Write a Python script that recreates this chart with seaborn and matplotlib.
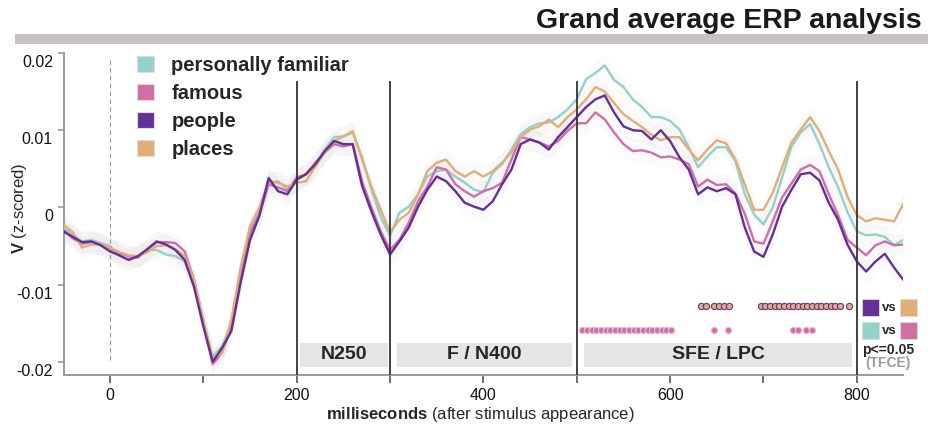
import numpy as np
import pandas as pd
import matplotlib
matplotlib.use("Agg")
import matplotlib.pyplot as plt
import seaborn as sns
from matplotlib.patches import Rectangle, Patch
from matplotlib.transforms import ScaledTranslation

# ---------------- data ----------------
ms = [-50, -40, -30, -20, -10, 0, 10, 20, 30, 40, 50, 60, 70, 80, 90, 100,
      110, 120, 130, 140, 150, 160, 170, 180, 190, 200, 210, 220, 230, 240,
      250, 260, 270, 280, 290, 300, 310, 320, 330, 340, 350, 360, 370, 380,
      390, 400, 410, 420, 430, 440, 450, 460, 470, 480, 490, 500, 510, 520,
      530, 540, 550, 560, 570, 580, 590, 600, 610, 620, 630, 640, 650, 660,
      670, 680, 690, 700, 710, 720, 730, 740, 750, 760, 770, 780, 790, 800,
      810, 820, 830, 840, 850]

people = [-0.0031, -0.0038, -0.0045, -0.0044, -0.0049, -0.0057, -0.0062, -0.0068,
          -0.0063, -0.0054, -0.0044, -0.0048, -0.0055, -0.0068, -0.0103, -0.0154,
          -0.0200, -0.0182, -0.0160, -0.0097, -0.0042, -0.0011, 0.0038, 0.0021,
          0.0017, 0.0036, 0.0043, 0.0056, 0.0073, 0.0086, 0.0082, 0.0082,
          0.0028, -0.0005, -0.0035, -0.0061, -0.0044, -0.0026, 0.0001, 0.0023,
          0.0040, 0.0034, 0.0021, 0.0006, 0.0001, -0.0003, 0.0008, 0.0030,
          0.0049, 0.0082, 0.0088, 0.0084, 0.0075, 0.0091, 0.0104, 0.0117,
          0.0130, 0.0140, 0.0145, 0.0123, 0.0105, 0.0100, 0.0099, 0.0088,
          0.0100, 0.0086, 0.0065, 0.0049, 0.0017, 0.0026, 0.0021, 0.0025,
          0.0017, -0.0026, -0.0057, -0.0064, -0.0035, 0.0001, 0.0023, 0.0043,
          0.0045, 0.0035, 0.0006, -0.0016, -0.0048, -0.0070, -0.0083, -0.0070,
          -0.0060, -0.0078, -0.0094]

places = [-0.0022, -0.0032, -0.0052, -0.0048, -0.0048, -0.0052, -0.0058, -0.0062,
          -0.0063, -0.0058, -0.0050, -0.0049, -0.0054, -0.0063, -0.0094, -0.0146,
          -0.0195, -0.0189, -0.0145, -0.0077, -0.0024, 0.0000, 0.0034, 0.0032,
          0.0027, 0.0032, 0.0034, 0.0053, 0.0071, 0.0086, 0.0092, 0.0099,
          0.0062, 0.0027, -0.0003, -0.0032, -0.0016, -0.0007, 0.0017, 0.0047,
          0.0058, 0.0062, 0.0047, 0.0040, 0.0047, 0.0040, 0.0047, 0.0058,
          0.0071, 0.0091, 0.0101, 0.0105, 0.0114, 0.0104, 0.0117, 0.0127,
          0.0140, 0.0156, 0.0150, 0.0135, 0.0121, 0.0112, 0.0104, 0.0094,
          0.0087, 0.0091, 0.0091, 0.0075, 0.0061, 0.0075, 0.0087, 0.0083,
          0.0062, 0.0030, -0.0003, -0.0003, 0.0019, 0.0052, 0.0084, 0.0101,
          0.0117, 0.0099, 0.0073, 0.0049, 0.0014, -0.0010, -0.0018, -0.0014,
          -0.0016, -0.0018, 0.0005]

personally_familiar = [-0.0026, -0.0035, -0.0044, -0.0042, -0.0046, -0.0050, -0.0063, -0.0067,
          -0.0063, -0.0055, -0.0055, -0.0061, -0.0063, -0.0070, -0.0098, -0.0148,
          -0.0193, -0.0180, -0.0150, -0.0085, -0.0029, -0.0005, 0.0032, 0.0034,
          0.0023, 0.0036, 0.0043, 0.0056, 0.0075, 0.0091, 0.0092, 0.0097,
          0.0065, 0.0023, -0.0012, -0.0037, -0.0007, 0.0001, 0.0017, 0.0040,
          0.0047, 0.0049, 0.0040, 0.0032, 0.0023, 0.0020, 0.0045, 0.0056,
          0.0075, 0.0095, 0.0104, 0.0109, 0.0110, 0.0117, 0.0127, 0.0140,
          0.0166, 0.0174, 0.0184, 0.0165, 0.0156, 0.0140, 0.0130, 0.0117,
          0.0117, 0.0112, 0.0101, 0.0078, 0.0052, 0.0066, 0.0078, 0.0078,
          0.0060, 0.0017, -0.0009, -0.0022, 0.0000, 0.0039, 0.0079, 0.0097,
          0.0108, 0.0082, 0.0052, 0.0026, -0.0006, -0.0031, -0.0036, -0.0035,
          -0.0038, -0.0049, -0.0042]

famous = [-0.0029, -0.0040, -0.0047, -0.0045, -0.0048, -0.0053, -0.0059, -0.0063,
          -0.0065, -0.0054, -0.0045, -0.0045, -0.0046, -0.0057, -0.0094, -0.0148,
          -0.0203, -0.0188, -0.0155, -0.0090, -0.0033, -0.0009, 0.0030, 0.0026,
          0.0021, 0.0039, 0.0043, 0.0058, 0.0071, 0.0082, 0.0079, 0.0082,
          0.0034, 0.0000, -0.0031, -0.0055, -0.0042, -0.0020, 0.0008, 0.0027,
          0.0052, 0.0049, 0.0030, 0.0021, 0.0014, 0.0021, 0.0025, 0.0032,
          0.0062, 0.0091, 0.0088, 0.0084, 0.0079, 0.0086, 0.0099, 0.0109,
          0.0109, 0.0123, 0.0114, 0.0097, 0.0082, 0.0073, 0.0074, 0.0071,
          0.0065, 0.0066, 0.0062, 0.0056, 0.0027, 0.0036, 0.0029, 0.0030,
          0.0018, -0.0008, -0.0044, -0.0047, -0.0018, 0.0013, 0.0031, 0.0049,
          0.0055, 0.0047, 0.0017, -0.0010, -0.0042, -0.0052, -0.0062, -0.0049,
          -0.0044, -0.0049, -0.0048]

sem = {"personally familiar": 0.0013, "famous": 0.0013, "people": 0.0013, "places": 0.0013}

# significant time points (TFCE, p<=0.05)
sig_people_vs_places = [633, 638, 647, 652, 658, 663,
                        697, 702, 707, 712, 717, 722, 727, 732, 737, 742, 747,
                        752, 757, 762, 767, 772, 777, 782, 792]
sig_familiar_vs_famous = [506, 511, 516, 521, 526, 531, 536, 541, 546, 551, 556,
                          561, 566, 571, 576, 581, 586, 591, 596, 601,
                          647, 662, 732, 737, 746, 752]

conditions = ["personally familiar", "famous", "people", "places"]
draw_order = ["personally familiar", "famous", "places", "people"]
colors = {"personally familiar": "#94d1cb", "famous": "#d06fa6",
          "people": "#652f98", "places": "#e2ae76"}
series = {"personally familiar": personally_familiar, "famous": famous,
          "people": people, "places": places}

windows = [("N250", 203.5, 297.8), ("F / N400", 307, 495), ("SFE / LPC", 508, 795)]
boundaries = [200, 300, 500, 800]

# ---------------- style ----------------
sns.set_style("ticks")
plt.rcParams["font.family"] = ["Liberation Sans", "DejaVu Sans"]
plt.rcParams["mathtext.fontset"] = "custom"
plt.rcParams["mathtext.rm"] = "Liberation Sans"
plt.rcParams["mathtext.bf"] = "Liberation Sans:bold"
plt.rcParams["axes.unicode_minus"] = False

W, H = 929, 430
fig = plt.figure(figsize=(W / 100, H / 100), dpi=100)

def fx(x):
    return x / W

def fy(y):
    return 1 - y / H

ax = fig.add_axes([fx(64), fy(375), fx(903) - fx(64), fy(53) - fy(375)])

df = pd.concat([pd.DataFrame({"ms": ms, "V": series[c], "cond": c}) for c in draw_order])

for c in draw_order:
    v = np.array(series[c])
    ax.fill_between(ms, v - sem[c], v + sem[c], facecolor="#b8b8b8", alpha=0.05,
                    edgecolor=colors[c], linewidth=0.4, zorder=1)

sns.lineplot(data=df, x="ms", y="V", hue="cond", hue_order=draw_order,
             palette=colors, linewidth=1.7, legend=False, errorbar=None,
             ax=ax, zorder=3)

ax.set_xlim(-49.3, 849.5)
ax.set_ylim(-0.0217, 0.01995)

# dashed stimulus onset line
ax.vlines(0, -0.0197, 0.0194, colors="#999999", linestyles=(0, (4, 3)), linewidth=0.8, zorder=2)
# window boundaries
ax.vlines(boundaries, -0.0217, 0.0164, colors="#333333", linewidth=1.3, zorder=4)

# window boxes
for name, a, b in windows:
    ax.add_patch(Rectangle((a, -0.02065), b - a, 0.0031, facecolor="#e6e4e6",
                           edgecolor="none", zorder=2))
    ax.text((a + b) / 2, -0.0191, name, ha="center", va="center",
            fontsize=14, fontweight="bold", zorder=5)

# significance dots
ax.scatter(sig_people_vs_places, [-0.0128] * len(sig_people_vs_places), s=20,
           facecolor=colors["places"], edgecolor=colors["people"], linewidth=0.8,
           zorder=5, clip_on=False)
ax.scatter(sig_familiar_vs_famous, [-0.0159] * len(sig_familiar_vs_famous), s=20,
           facecolor=colors["famous"], edgecolor="#e9b9d2", linewidth=0.8,
           zorder=5, clip_on=False)

# axes styling
sns.despine(ax=ax)
for s in ["left", "bottom"]:
    ax.spines[s].set_color("#9a9a9a")
    ax.spines[s].set_linewidth(1.4)
ax.set_xticks([0, 100, 200, 300, 400, 500, 600, 700, 800])
ax.set_xticklabels(["0", "", "200", "", "400", "", "600", "", "800"])
ax.set_yticks([-0.02, -0.01, 0, 0.01, 0.02])
ax.set_yticklabels(["-0.02", "-0.01", "0", "0.01", "0.02"])
ax.tick_params(axis="both", labelsize=11.5, colors="#111111")
ax.tick_params(axis="x", length=6, width=1.2, color="#555555", pad=3)
ax.tick_params(axis="y", length=4, width=1.2, color="#9a9a9a", pad=4)
for lab in ax.get_yticklabels():
    lab.set_transform(lab.get_transform() + ScaledTranslation(0, -8 / 100, fig.dpi_scale_trans))
ax.set_xlabel("")
ax.set_ylabel("")

fig.text(fx(20), fy(208), r"$\mathbf{V}$ (z-scored)", rotation=90, ha="center",
         va="center", fontsize=12)
fig.text(fx(480), fy(415), r"$\mathbf{milliseconds}$ (after stimulus appearance)",
         ha="center", va="center", fontsize=12)

# main legend
handles = [Patch(facecolor=colors[c], edgecolor="#dcdcdc", linewidth=0.8, label=c)
           for c in conditions]
leg = ax.legend(handles=handles, loc="upper left",
                bbox_to_anchor=(fx(137), fy(56)), bbox_transform=fig.transFigure,
                frameon=False, borderpad=0, borderaxespad=0,
                handlelength=0.85, handleheight=0.85, handletextpad=0.85,
                labelspacing=0.45, prop={"weight": "bold", "size": 14.5})

# header bar and title
fig.add_artist(Rectangle((fx(15), fy(44)), fx(929) - fx(15), fy(34) - fy(44),
                         transform=fig.transFigure, facecolor="#c9c0c6", edgecolor="none"))
fig.text(fx(922), fy(28), "Grand average ERP analysis", ha="right", va="baseline",
         fontsize=20.5, fontweight="bold", color="#1a1a1a")

# contrast key (right)
def sq(x, y, c):
    fig.add_artist(Rectangle((fx(x), fy(y + 17)), fx(17), fy(0) - fy(17),
                             transform=fig.transFigure, facecolor=c,
                             edgecolor="#dddddd", linewidth=0.6))

sq(862, 299, colors["people"])
sq(900, 299, colors["places"])
sq(862, 322, colors["personally familiar"])
sq(900, 322, colors["famous"])
fig.text(fx(889), fy(308), "vs", ha="center", va="center", fontsize=9.5, fontweight="bold")
fig.text(fx(889), fy(331), "vs", ha="center", va="center", fontsize=9.5, fontweight="bold")
fig.text(fx(888), fy(350), "p<=0.05", ha="center", va="center", fontsize=10, fontweight="bold")
fig.text(fx(888), fy(363), "(TFCE)", ha="center", va="center", fontsize=10,
         fontweight="bold", color="#9a9a9a")

fig.savefig("out.png", dpi=100)
